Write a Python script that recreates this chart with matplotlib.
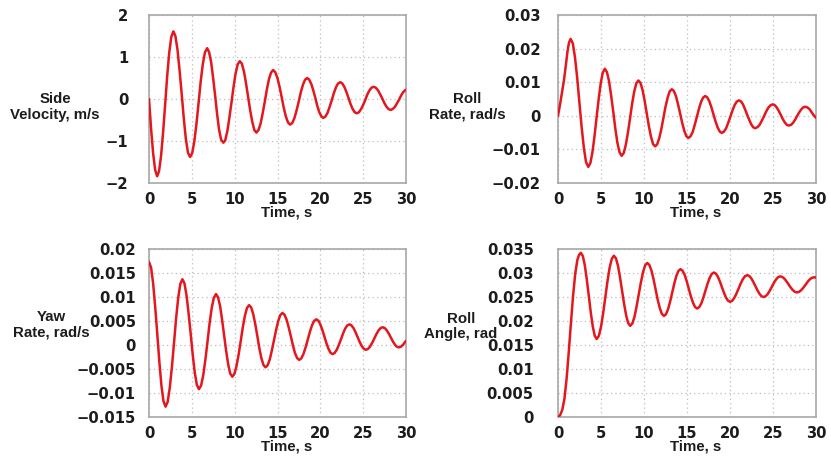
import matplotlib
matplotlib.use("Agg")
import matplotlib.pyplot as plt

# ---------------- data ----------------
time_ticks = [0, 5, 10, 15, 20, 25, 30]
time_tick_labels = ["0", "5", "10", "15", "20", "25", "30"]

side_t = [0, 0.24, 0.48, 0.72, 0.95, 1.17, 1.41, 1.65, 1.89, 2.12, 2.36, 2.60, 2.85,
          3.08, 3.33, 3.57, 3.82, 4.06, 4.30, 4.55, 4.80, 5.04, 5.29, 5.54, 5.79,
          6.03, 6.28, 6.53, 6.79, 7.01, 7.25, 7.48, 7.72, 7.95, 8.18, 8.42, 8.68,
          8.89, 9.14, 9.38, 9.63, 9.87, 10.11, 10.36, 10.6, 10.84, 11.09, 11.33,
          11.57, 11.81, 12.06, 12.30, 12.54, 12.78, 13.03, 13.27, 13.52, 13.76,
          14.00, 14.25, 14.49, 14.74, 14.99, 15.24, 15.49, 15.73, 15.98, 16.23,
          16.48, 16.73, 16.98, 17.23, 17.48, 17.72, 17.97, 18.22, 18.47, 18.70,
          18.94, 19.17, 19.41, 19.64, 19.87, 20.11, 20.34, 20.59, 20.84, 21.08,
          21.33, 21.58, 21.83, 22.07, 22.32, 22.56, 22.80, 23.04, 23.28, 23.51,
          23.75, 23.99, 24.23, 24.48, 24.73, 24.98, 25.23, 25.47, 25.72, 25.97,
          26.22, 26.47, 26.72, 26.96, 27.21, 27.46, 27.71, 27.95, 28.2, 28.44,
          28.69, 28.93, 29.18, 29.42, 29.66, 29.91, 30]
side_v = [0, -0.70, -1.29, -1.69, -1.84, -1.72, -1.35, -0.78, -0.12, 0.54, 1.10, 1.48, 1.61,
          1.50, 1.17, 0.68, 0.11, -0.46, -0.95, -1.28, -1.38, -1.29, -1.01, -0.59, -0.09,
          0.41, 0.83, 1.11, 1.21, 1.12, 0.88, 0.51, 0.08, -0.36, -0.73, -0.97, -1.04,
          -0.99, -0.77, -0.45, -0.08, 0.29, 0.61, 0.83, 0.90, 0.84, 0.65, 0.37,
          0.05, -0.27, -0.55, -0.74, -0.80, -0.74, -0.58, -0.34, -0.06, 0.23,
          0.47, 0.63, 0.69, 0.64, 0.50, 0.29, 0.04, -0.21, -0.42, -0.56,
          -0.61, -0.57, -0.45, -0.27, -0.06, 0.16, 0.34, 0.46, 0.50, 0.46,
          0.36, 0.21, 0.03, -0.16, -0.31, -0.41, -0.45, -0.42, -0.33, -0.19,
          -0.03, 0.14, 0.28, 0.37, 0.40, 0.37, 0.29, 0.17, 0.03, -0.11,
          -0.23, -0.31, -0.34, -0.32, -0.25, -0.15, -0.03, 0.10, 0.20, 0.27,
          0.29, 0.27, 0.21, 0.12, 0.02, -0.09, -0.18, -0.24, -0.26, -0.24,
          -0.19, -0.11, -0.02, 0.08, 0.16, 0.21, 0.22]

rollrate_t = [0, 0.25, 0.5, 0.7, 0.9, 1.1, 1.28, 1.47, 1.73, 1.98, 2.24, 2.49, 2.75,
              3.01, 3.26, 3.52, 3.76, 4.00, 4.24, 4.48, 4.73, 4.97, 5.21, 5.45,
              5.69, 5.94, 6.18, 6.43, 6.67, 6.91, 7.16, 7.40, 7.64, 7.89, 8.13,
              8.38, 8.62, 8.86, 9.11, 9.35, 9.59, 9.84, 10.08, 10.32, 10.56, 10.81,
              11.05, 11.29, 11.53, 11.78, 12.02, 12.26, 12.50, 12.75, 12.99, 13.23,
              13.47, 13.72, 13.96, 14.20, 14.44, 14.69, 14.93, 15.17, 15.41, 15.66,
              15.90, 16.14, 16.38, 16.63, 16.87, 17.11, 17.35, 17.60, 17.84, 18.08,
              18.32, 18.57, 18.81, 19.05, 19.30, 19.55, 19.79, 20.04, 20.29, 20.54,
              20.78, 21.03, 21.27, 21.51, 21.74, 21.98, 22.22, 22.46, 22.69, 22.93,
              23.18, 23.44, 23.69, 23.94, 24.19, 24.45, 24.70, 24.95, 25.19, 25.43,
              25.66, 25.90, 26.14, 26.38, 26.61, 26.85, 27.09, 27.33, 27.56, 27.80,
              28.04, 28.28, 28.51, 28.75, 28.99, 29.24, 29.48, 29.73, 30]
rollrate_v = [0, 0.0036, 0.0075, 0.0107, 0.0148, 0.0191, 0.0218, 0.0229, 0.0215, 0.0173,
              0.0111, 0.0039, -0.0034, -0.0096, -0.0138, -0.0152, -0.0141, -0.0109,
              -0.0062, -0.0006, 0.0050, 0.0097, 0.0129, 0.0140, 0.0130, 0.0102, 0.0060,
              0.0011, -0.0039, -0.0081, -0.0109, -0.0119, -0.0111, -0.0086, -0.0050,
              -0.0007, 0.0036, 0.0072, 0.0097, 0.0105, 0.0098, 0.0076, 0.0044, 0.0007,
              -0.0030, -0.0062, -0.0084, -0.0091, -0.0085, -0.0066, -0.0039, -0.0006,
              0.0027, 0.0054, 0.0073, 0.0079, 0.0074, 0.0058, 0.0034, 0.0007, -0.0021,
              -0.0045, -0.0061, -0.0066, -0.0061, -0.0048, -0.0027, -0.0004, 0.0020,
              0.0041, 0.0054, 0.0059, 0.0055, 0.0043, 0.0025, 0.0004, -0.0017, -0.0035,
              -0.0047, -0.0051, -0.0047, -0.0037, -0.0021, -0.0003, 0.0016, 0.0032,
              0.0042, 0.0046, 0.0043, 0.0034, 0.0020, 0.0004, -0.0011, -0.0025, -0.0034,
              -0.0037, -0.0034, -0.0027, -0.0015, -0.0002, 0.0012, 0.0024, 0.0031,
              0.0034, 0.0032, 0.0025, 0.0015, 0.0003, -0.0010, -0.0020, -0.0027,
              -0.0029, -0.0027, -0.0021, -0.0012, -0.0001, 0.0010, 0.0019, 0.0025,
              0.0027, 0.0025, 0.0020, 0.0011, 0.0002, -0.0006]

yaw_t = [0, 0.24, 0.48, 0.72, 0.97, 1.21, 1.45, 1.69, 1.93, 2.18, 2.42, 2.67, 2.92,
         3.16, 3.41, 3.65, 3.90, 4.14, 4.38, 4.62, 4.87, 5.11, 5.35, 5.59, 5.83,
         6.08, 6.33, 6.58, 6.83, 7.07, 7.32, 7.57, 7.82, 8.06, 8.30, 8.53, 8.77,
         9.01, 9.25, 9.48, 9.72, 9.97, 10.21, 10.46, 10.71, 10.95, 11.20, 11.44,
         11.69, 11.93, 12.17, 12.41, 12.65, 12.88, 13.12, 13.36, 13.60, 13.85,
         14.10, 14.34, 14.59, 14.84, 15.09, 15.33, 15.58, 15.82, 16.07, 16.31,
         16.56, 16.80, 17.04, 17.29, 17.53, 17.78, 18.03, 18.28, 18.53, 18.78,
         19.03, 19.28, 19.53, 19.77, 20.00, 20.24, 20.48, 20.72, 20.96, 21.19,
         21.43, 21.67, 21.92, 22.16, 22.41, 22.65, 22.89, 23.14, 23.38, 23.62,
         23.87, 24.11, 24.35, 24.59, 24.84, 25.08, 25.32, 25.56, 25.81, 26.05,
         26.30, 26.54, 26.78, 27.03, 27.27, 27.51, 27.74, 27.98, 28.22, 28.45,
         28.69, 28.92, 29.16, 29.40, 29.65, 29.89, 30]
yaw_v = [0.0173, 0.01615, 0.0129, 0.00798, 0.00223, -0.00353, -0.00845, -0.0117, -0.01285,
         -0.01184, -0.00897, -0.00465, 0.00042, 0.0055, 0.00982, 0.01269, 0.0137,
         0.01283, 0.01036, 0.00662, 0.00225, -0.00212, -0.00586, -0.00833, -0.0092,
         -0.00845, -0.00631, -0.00308, 0.0007, 0.00448, 0.00771, 0.00985, 0.0106,
         0.00995, 0.00809, 0.00529, 0.002, -0.00129, -0.00409, -0.00595, -0.0066,
         -0.00603, -0.00442, -0.002, 0.00085, 0.0037, 0.00612, 0.00773, 0.0083,
         0.00781, 0.00641, 0.0043, 0.00183, -0.00065, -0.00276, -0.00416, -0.00465,
         -0.00422, -0.003, -0.00115, 0.00101, 0.00317, 0.00502, 0.00624, 0.00667,
         0.0063, 0.00524, 0.00365, 0.00179, -0.00008, -0.00167, -0.00273, -0.0031,
         -0.00278, -0.00187, -0.00049, 0.00112, 0.00274, 0.00412, 0.00503, 0.00535,
         0.00507, 0.00429, 0.00311, 0.00173, 0.00034, -0.00084, -0.00162, -0.0019,
         -0.00166, -0.00099, 0.00002, 0.0012, 0.00238, 0.00339, 0.00406, 0.0043,
         0.0041, 0.00353, 0.00266, 0.00165, 0.00064, -0.00023, -0.0008, -0.001,
         -0.00082, -0.00031, 0.00045, 0.00135, 0.00225, 0.00301, 0.00352, 0.0037,
         0.00354, 0.00309, 0.0024, 0.0016, 0.0008, 0.00011, -0.00034, -0.0005,
         -0.00036, 0.00004, 0.00064, 0.00085]

rollang_t = [0, 0.25, 0.5, 0.75, 1.0, 1.25, 1.5, 1.75, 2.0, 2.25, 2.45, 2.66, 2.89,
             3.12, 3.35, 3.58, 3.81, 4.04, 4.27, 4.50, 4.75, 5.00, 5.25, 5.50, 5.75,
             6.00, 6.25, 6.50, 6.74, 6.98, 7.21, 7.45, 7.69, 7.93, 8.16, 8.40, 8.65,
             8.90, 9.14, 9.39, 9.64, 9.89, 10.13, 10.38, 10.62, 10.87, 11.11, 11.35,
             11.59, 11.84, 12.08, 12.32, 12.56, 12.80, 13.04, 13.28, 13.52, 13.76,
             14.00, 14.24, 14.48, 14.73, 14.97, 15.21, 15.45, 15.70, 15.94, 16.18,
             16.42, 16.67, 16.91, 17.15, 17.39, 17.64, 17.88, 18.12, 18.36, 18.59,
             18.83, 19.06, 19.30, 19.53, 19.77, 20.0, 20.25, 20.50, 20.75, 21.0,
             21.25, 21.5, 21.75, 22.0, 22.24, 22.48, 22.71, 22.95, 23.19, 23.43,
             23.66, 23.9, 24.14, 24.39, 24.63, 24.87, 25.11, 25.36, 25.60, 25.84,
             26.08, 26.33, 26.57, 26.81, 27.05, 27.30, 27.54, 27.78, 28.03, 28.27,
             28.52, 28.77, 29.01, 29.26, 29.50, 29.75, 30]
rollang_v = [0, 0.0004, 0.0015, 0.0038, 0.0080, 0.0135, 0.0195, 0.0252, 0.0298, 0.0327,
             0.0338, 0.0342, 0.03352, 0.03158, 0.02865, 0.02523, 0.0218, 0.01887,
             0.01693, 0.01625, 0.01691, 0.01878, 0.02161, 0.02492, 0.02824, 0.03107,
             0.03294, 0.0336, 0.03305, 0.03147, 0.02909, 0.0263, 0.02351, 0.02113,
             0.01955, 0.019, 0.0195, 0.02091, 0.02305, 0.02555, 0.02805, 0.03019,
             0.0316, 0.0321, 0.03168, 0.03049, 0.02869, 0.02658, 0.02446, 0.02266,
             0.02147, 0.02105, 0.02142, 0.02247, 0.02406, 0.02592, 0.02779, 0.02938,
             0.03043, 0.0308, 0.03049, 0.0296, 0.02827, 0.0267, 0.02513, 0.0238,
             0.02291, 0.0226, 0.02288, 0.02369, 0.02492, 0.02635, 0.02778, 0.029,
             0.02981, 0.0301, 0.02987, 0.02921, 0.02822, 0.02705, 0.02588, 0.02489,
             0.02423, 0.024, 0.02421, 0.02481, 0.02571, 0.02677, 0.02784, 0.02874,
             0.02934, 0.02955, 0.02938, 0.02889, 0.02814, 0.02728, 0.02641, 0.02566,
             0.02517, 0.025, 0.02516, 0.02563, 0.02633, 0.02715, 0.02797, 0.02867,
             0.02914, 0.0293, 0.02917, 0.02881, 0.02826, 0.02763, 0.02699, 0.02644,
             0.02608, 0.02595, 0.02607, 0.02641, 0.02692, 0.02752, 0.02813, 0.02864,
             0.02898, 0.0291, 0.02905]

side_ticks = [-2, -1, 0, 1, 2]
side_labels = ["\u22122", "\u22121", "0", "1", "2"]
rollrate_ticks = [-0.02, -0.01, 0, 0.01, 0.02, 0.03]
rollrate_labels = ["\u22120.02", "\u22120.01", "0", "0.01", "0.02", "0.03"]
yaw_ticks = [-0.015, -0.01, -0.005, 0, 0.005, 0.01, 0.015, 0.02]
yaw_labels = ["\u22120.015", "\u22120.01", "\u22120.005", "0", "0.005", "0.01", "0.015", "0.02"]
rollang_ticks = [0, 0.005, 0.01, 0.015, 0.02, 0.025, 0.03, 0.035]
rollang_labels = ["0", "0.005", "0.01", "0.015", "0.02", "0.025", "0.03", "0.035"]

ylabels = ["Side\nVelocity, m/s", "Roll\nRate, rad/s", "Yaw\nRate, rad/s", "Roll\nAngle, rad"]
xlabel = "Time, s"

# ---------------- figure ----------------
W, H = 831, 457
fig = plt.figure(figsize=(W / 100, H / 100), dpi=100)

RED = "#e3171d"
TXT = "#1c1c1c"
tick_font = dict(family="DejaVu Sans", weight="bold", size=10.6)
label_font = dict(family="Liberation Sans", weight="bold", size=10.8)

# axes boxes in pixels: left, top, right, bottom
boxes = [(149, 15, 406, 183), (558, 15, 816, 183),
         (149, 249, 406, 417), (558, 249, 816, 417)]
series = [(side_t, side_v, side_ticks, side_labels, (-2, 2)),
          (rollrate_t, rollrate_v, rollrate_ticks, rollrate_labels, (-0.02, 0.03)),
          (yaw_t, yaw_v, yaw_ticks, yaw_labels, (-0.015, 0.02)),
          (rollang_t, rollang_v, rollang_ticks, rollang_labels, (0, 0.035))]
ypads = [15, 12.5, 9.5, 17.5]
ylab_pos = [(-0.366, 0.454), (-0.353, 0.454), (-0.381, 0.548), (-0.376, 0.539)]

for i, ((l, t, r, b), (xs, ys, yt, yl, ylim)) in enumerate(zip(boxes, series)):
    ax = fig.add_axes([l / W, 1 - b / H, (r - l) / W, (b - t) / H])
    ax.plot(xs, ys, color=RED, lw=1.8, solid_capstyle="round", zorder=3)
    ax.set_xlim(0, 30)
    ax.set_ylim(*ylim)
    ax.set_xticks(time_ticks)
    ax.set_xticklabels(time_tick_labels, **tick_font, color=TXT)
    ax.set_yticks(yt)
    ax.set_yticklabels(yl, **tick_font, color=TXT)
    ax.tick_params(axis="x", length=0, pad=6.3)
    ax.tick_params(axis="y", length=0, pad=ypads[i])
    ax.grid(True, color="#bdbdbd", linestyle=(0, (1, 2.5)), linewidth=0.9)
    ax.set_axisbelow(True)
    for sp in ax.spines.values():
        sp.set_color("#a8a8a8")
        sp.set_linewidth(1.2)
    ax.set_xlabel(xlabel, **label_font, color=TXT)
    ax.xaxis.set_label_coords(0.535, -0.134)
    ax.xaxis.label.set_va("top")
    ax.set_ylabel(ylabels[i], rotation=0, ha="center", va="center",
                  multialignment="center", linespacing=1.15, **label_font, color=TXT)
    ax.yaxis.set_label_coords(*ylab_pos[i])

fig.savefig("out.png", dpi=100, facecolor="white")
